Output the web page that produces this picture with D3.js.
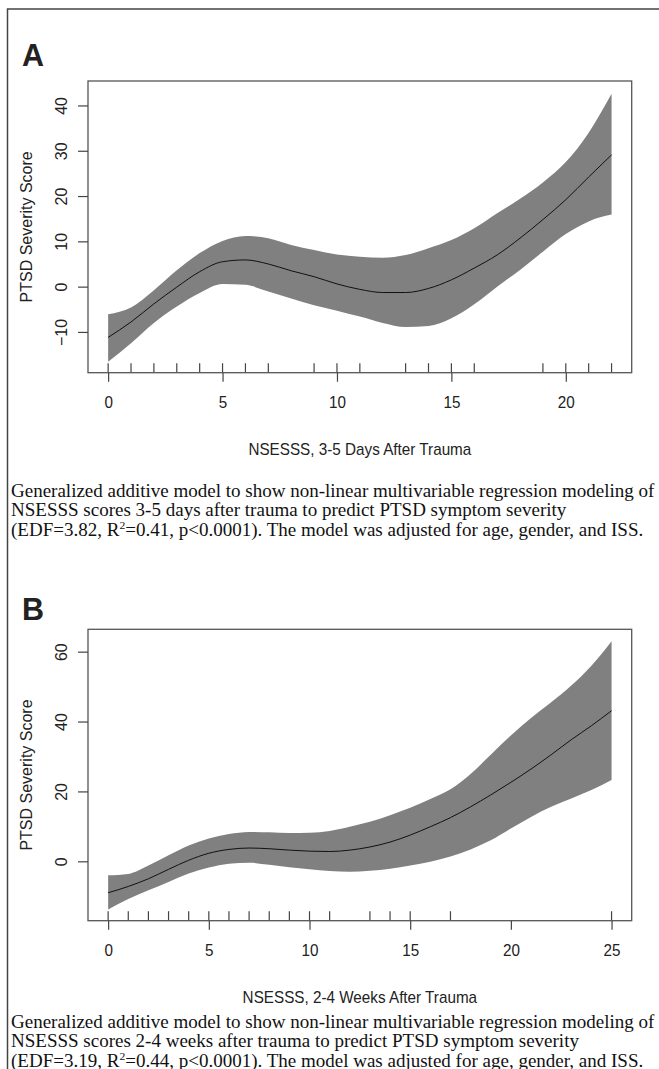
<!DOCTYPE html>
<meta charset="utf-8">
<script src="https://d3js.org/d3.v7.min.js"></script>
<style>
  body { margin: 0; background: #fff; }
  text { font-family: "Liberation Sans", Arial, sans-serif; fill: #222; }
  text.cap { font-family: "Liberation Serif", "Times New Roman", serif; fill: #111; }
</style>
<body>
<div id="my_dataviz"></div>
<script>

// ---- panel A : NSESSS 3-5 days after trauma
var xA     = [0, 1, 2, 3, 4, 5, 6, 7, 8, 9, 10, 11, 12, 13, 14, 15, 16, 17, 18, 19, 20, 21, 22]
var fitA   = [-11.2, -7.8, -3.8, -0.1, 3.3, 5.5, 5.9, 5.0, 3.5, 2.2, 0.6, -0.6, -1.3, -1.3, -0.4, 1.5, 4.1, 7.0, 10.7, 14.8, 19.2, 24.2, 29.1]
var upperA = [-6.1, -4.6, -0.8, 3.6, 7.4, 10.1, 11.2, 10.7, 9.2, 8.1, 7.1, 6.6, 6.4, 7.0, 8.5, 10.3, 12.9, 16.2, 19.4, 23.0, 27.5, 34.0, 42.6]
var lowerA = [-16.6, -12.5, -8.0, -4.4, -1.4, 0.6, 0.4, -1.1, -2.6, -4.1, -5.3, -6.6, -8.0, -8.9, -8.7, -7.0, -3.9, 0.0, 3.7, 7.7, 11.6, 14.4, 15.9]
var rugA   = [0, 1, 2, 3, 4, 5, 6, 7, 9, 10, 11, 13, 14, 15, 16, 19, 20, 21, 22]
var xTicksA = [0, 5, 10, 15, 20]
var yTicksA = [-10, 0, 10, 20, 30, 40]

// ---- panel B : NSESSS 2-4 weeks after trauma
var xB     = [0, 1, 2, 3, 4, 5, 6, 7, 8, 9, 10, 11, 12, 13, 14, 15, 16, 17, 18, 19, 20, 21, 22, 23, 24, 25]
var fitB   = [-9.0, -7.2, -5.0, -2.3, 0.3, 2.3, 3.4, 3.8, 3.6, 3.2, 2.9, 2.8, 3.2, 4.1, 5.5, 7.5, 9.9, 12.5, 15.6, 19.0, 22.6, 26.4, 30.5, 34.8, 38.8, 43.1]
var upperB = [-4.0, -3.6, -1.2, 1.7, 4.5, 6.5, 7.8, 8.4, 8.3, 8.1, 8.2, 8.7, 9.9, 11.3, 13.2, 15.3, 17.8, 20.6, 25.0, 30.5, 36.0, 41.0, 45.5, 50.3, 56.0, 63.0]
var lowerB = [-13.8, -10.8, -8.3, -5.9, -3.5, -1.8, -0.7, -0.4, -1.0, -1.7, -2.3, -2.8, -3.0, -2.7, -2.1, -1.2, -0.1, 1.4, 3.4, 6.0, 9.4, 12.7, 15.6, 18.0, 20.4, 23.3]
var rugB   = [0, 1, 2, 3, 4, 5, 6, 7, 8, 9, 10, 11, 13, 14, 15, 17, 25]
var xTicksB = [0, 5, 10, 15, 20, 25]
var yTicksB = [0, 20, 40, 60]

var yLabel = "PTSD Severity Score"

var capA = ["Generalized additive model to show non-linear multivariable regression modeling of",
            "NSESSS scores 3-5 days after trauma to predict PTSD symptom severity",
            ["(EDF=3.82, R", "2", "=0.41, p<0.0001). The model was adjusted for age, gender, and ISS."]]
var capB = ["Generalized additive model to show non-linear multivariable regression modeling of",
            "NSESSS scores 2-4 weeks after trauma to predict PTSD symptom severity",
            ["(EDF=3.19, R", "2", "=0.44, p<0.0001). The model was adjusted for age, gender, and ISS."]]

var svg = d3.select("#my_dataviz")
  .append("svg")
    .attr("width", 659)
    .attr("height", 1069)

// outer figure frame (left and top edges only show)
svg.append("path")
  .attr("d", "M7.5,1069V9H659")
  .attr("fill", "none")
  .attr("stroke", "#444")
  .attr("stroke-width", 1.5)

// horizontal squeeze of the scanned figure, measured on the x axis title
var probe = svg.append("text").attr("font-size", 16).text("NSESSS, 3-5 Days After Trauma")
var sx = 223 / probe.node().getComputedTextLength()
probe.remove()
var probe2 = svg.append("text").attr("class", "cap").attr("font-size", 18).text(capA[0])
var sxCap = 644 / probe2.node().getComputedTextLength()
probe2.remove()

function drawPanel(p) {
  var left = 88, right = 631.7

  var x = d3.scaleLinear().domain(p.xDom).range([left, right])
  var y = d3.scaleLinear().domain(p.yDom).range([p.bottom, p.top])

  var data = p.xs.map(function(v, i) {
    return {x: v, fit: p.fit[i], lo: p.lower[i], hi: p.upper[i]}
  })

  // confidence band
  svg.append("path")
    .datum(data)
    .attr("fill", "#808080")
    .attr("d", d3.area()
      .x(function(d) { return x(d.x) })
      .y0(function(d) { return y(d.lo) })
      .y1(function(d) { return y(d.hi) })
      .curve(d3.curveMonotoneX))

  // fitted smooth
  svg.append("path")
    .datum(data)
    .attr("fill", "none")
    .attr("stroke", "#111")
    .attr("stroke-width", 1)
    .attr("d", d3.line()
      .x(function(d) { return x(d.x) })
      .y(function(d) { return y(d.fit) })
      .curve(d3.curveMonotoneX))

  // rug
  svg.append("g")
    .selectAll("line")
    .data(p.rug)
    .enter().append("line")
      .attr("x1", function(d) { return x(d) })
      .attr("x2", function(d) { return x(d) })
      .attr("y1", p.bottom)
      .attr("y2", p.bottom - 9.5)
      .attr("stroke", "#444")
      .attr("stroke-width", 1.2)

  // box
  svg.append("rect")
    .attr("x", left).attr("y", p.top)
    .attr("width", right - left).attr("height", p.bottom - p.top)
    .attr("fill", "none")
    .attr("stroke", "#555")
    .attr("stroke-width", 1.3)

  // x axis
  var gx = svg.append("g")
    .attr("transform", "translate(0," + p.bottom + ")")
    .call(d3.axisBottom(x).tickValues(p.xTicks).tickSize(9).tickPadding(0))
  gx.select(".domain").remove()
  gx.selectAll(".tick line").attr("stroke", "#444").attr("stroke-width", 1.2)
  gx.selectAll(".tick text")
    .attr("font-size", 16)
    .attr("font-family", "Liberation Sans, Arial, sans-serif")
    .attr("fill", "#222")
    .attr("y", 35).attr("dy", 0)
    .attr("transform", "scale(" + sx + ",1)")

  // y axis
  var gy = svg.append("g")
    .attr("transform", "translate(" + left + ",0)")
    .call(d3.axisLeft(y).tickValues(p.yTicks).tickSize(10).tickPadding(0))
  gy.select(".domain").remove()
  gy.selectAll(".tick line").attr("stroke", "#444").attr("stroke-width", 1.2)
  gy.selectAll(".tick text")
    .attr("font-size", 16)
    .attr("font-family", "Liberation Sans, Arial, sans-serif")
    .attr("fill", "#222")
    .attr("text-anchor", "middle")
    .attr("x", 0).attr("dy", 0)
    .attr("y", -21)
    .attr("transform", "rotate(-90)")

  // axis titles
  svg.append("text")
    .attr("transform", "translate(" + (left + right) / 2 + "," + p.titleY + ") scale(" + sx + ",1)")
    .attr("text-anchor", "middle")
    .attr("font-size", 16)
    .text(p.title)

  svg.append("text")
    .attr("transform", "translate(32," + (p.top + p.bottom) / 2 + ") rotate(-90)")
    .attr("text-anchor", "middle")
    .attr("font-size", 16)
    .text(yLabel)

  // panel letter
  svg.append("text")
    .attr("transform", "translate(22," + p.letterY + ") scale(" + sx + ",1)")
    .attr("font-size", 32)
    .attr("font-weight", "bold")
    .attr("fill", "#000")
    .text(p.letter)

  // caption
  var cap = svg.append("g")
    .attr("transform", "translate(11,0) scale(" + sxCap + ",1)")
  p.caption.forEach(function(line, i) {
    var t = cap.append("text")
      .attr("class", "cap")
      .attr("x", 0)
      .attr("y", p.capY + i * 19.5)
      .attr("font-size", 18)
    if (typeof line === "string") {
      t.text(line)
    } else {
      t.append("tspan").text(line[0])
      t.append("tspan").attr("font-size", 11).attr("dy", -7).text(line[1])
      t.append("tspan").attr("dy", 7).text(line[2])
    }
  })
}

drawPanel({
  letter: "A", letterY: 66,
  top: 81, bottom: 372.7,
  xDom: [-0.88, 22.88], yDom: [-19.0, 45.4],
  xs: xA, fit: fitA, upper: upperA, lower: lowerA, rug: rugA,
  xTicks: xTicksA, yTicks: yTicksA,
  title: "NSESSS, 3-5 Days After Trauma", titleY: 455,
  caption: capA, capY: 497
})

drawPanel({
  letter: "B", letterY: 620,
  top: 629.3, bottom: 920.7,
  xDom: [-1, 26], yDom: [-17.0, 66.4],
  xs: xB, fit: fitB, upper: upperB, lower: lowerB, rug: rugB,
  xTicks: xTicksB, yTicks: yTicksB,
  title: "NSESSS, 2-4 Weeks After Trauma", titleY: 1003,
  caption: capB, capY: 1028
})

</script>
</body>
